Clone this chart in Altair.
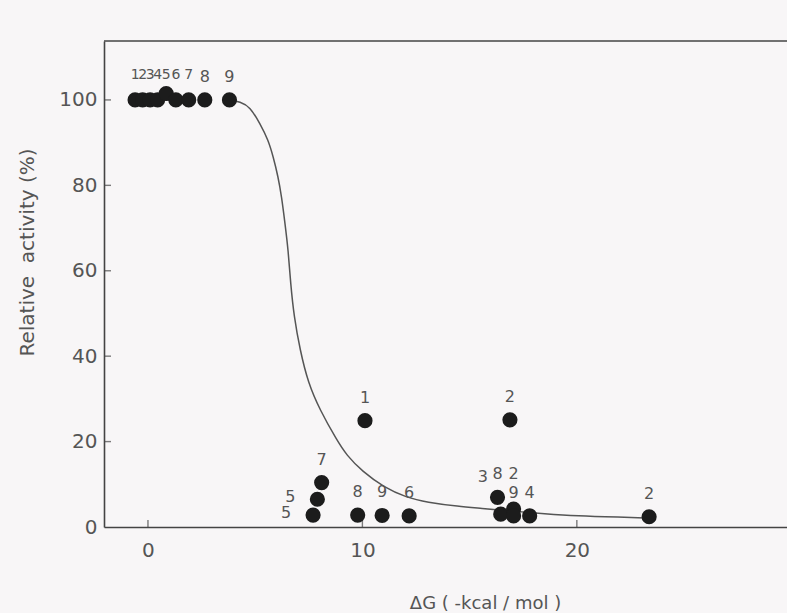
import altair as alt
import pandas as pd

# ---- data ----
pt_label = ["1", "2", "3", "4", "5", "6", "7", "8", "9",
            "1", "2", "7", "5", "5", "8", "9", "6",
            "3", "8", "2", "9", "4", "2"]
pt_dg = [-0.6, -0.25, 0.1, 0.45, 0.85, 1.3, 1.9, 2.65, 3.8,
         10.12, 16.88, 8.1, 7.9, 7.7, 9.78, 10.92, 12.18,
         16.45, 16.3, 17.05, 17.05, 17.8, 23.37]
pt_act = [100, 100, 100, 100, 101.5, 100, 100, 100, 100,
          24.9, 25.1, 10.4, 6.5, 2.8, 2.8, 2.7, 2.6,
          3.0, 6.95, 4.2, 2.6, 2.6, 2.4]
pt_place = ["cluster"] * 4 + ["cluster_raised", "cluster", "cluster", "above", "above"] + \
           ["above", "above", "above", "left", "left", "above", "above", "above",
            "highleft", "above", "high", "above", "above", "above"]

curve_dg = [3.8, 4.3, 4.76, 5.22, 5.61, 5.84, 6.07, 6.23, 6.39, 6.54, 6.65, 6.81, 7.09,
            7.47, 8.02, 8.8, 9.26, 10.0, 11.0, 12.06, 13.0, 14.5, 15.5, 17.0, 18.5,
            20.0, 22.0, 23.4]
curve_act = [100, 99.6, 98.4, 94.5, 90.6, 86.7, 82.0, 77.4, 71.1, 64.9, 57.1, 49.3, 41.5,
             33.7, 27.4, 20.4, 16.8, 13.0, 9.3, 6.9, 5.8, 4.8, 4.4, 3.7, 3.1,
             2.6, 2.3, 2.1]

x_ticks = [0, 10, 20]
y_ticks = [0, 20, 40, 60, 80, 100]
x_domain = [-2.05, 29.8]
y_domain = [0, 113.8]

# ---- styling ----
FONT = "DejaVu Sans"
INK = "#444444"
TXT = "#555555"

points = pd.DataFrame({"dg": pt_dg, "act": pt_act, "label": pt_label, "place": pt_place})
curve = pd.DataFrame({"dg": curve_dg, "act": curve_act})
xt = pd.DataFrame({"dg": [v for v in x_ticks]})
yt = pd.DataFrame({"act": [v for v in y_ticks if v > 0]})

xscale = alt.Scale(domain=x_domain, nice=False, zero=False)
yscale = alt.Scale(domain=y_domain, nice=False, zero=False)

axis_x = alt.Axis(values=x_ticks, ticks=False, grid=False, domainColor=INK, domainWidth=1.6,
                  labelFont=FONT, labelFontSize=20, labelColor=TXT, labelPadding=13,
                  title="ΔG ( -kcal / mol )", titleFont=FONT, titleFontSize=18,
                  titleFontWeight="normal", titleColor=TXT, titleX=381, titleY=76,
                  titleBaseline="middle", titleAlign="center")
axis_y = alt.Axis(values=y_ticks, ticks=False, grid=False, domainColor=INK, domainWidth=1.6,
                  labelFont=FONT, labelFontSize=20, labelColor=TXT, labelPadding=7,
                  title="Relative\u00a0\u00a0activity\u00a0(%)", titleFont=FONT, titleFontSize=20,
                  titleFontWeight="normal", titleColor=TXT, titleX=-77, titleY=211,
                  titleAngle=270, titleBaseline="middle", titleAlign="center")

X = alt.X("dg:Q", scale=xscale, axis=axis_x)
Y = alt.Y("act:Q", scale=yscale, axis=axis_y)

line = alt.Chart(curve).mark_line(color="#555555", strokeWidth=1.5, interpolate="basis").encode(x=X, y=Y)

dots = alt.Chart(points).mark_point(filled=True, size=230, color="#1c1c1c", opacity=1).encode(x=X, y=Y)

# label placement styles: (dx, dy, fontSize)
offsets = {
    "above": (0, -23, 16),
    "cluster": (0, -25, 14),
    "cluster_raised": (0, -18.6, 14),
    "left": (-27, -2, 16),
    "high": (0, -35, 16),
    "highleft": (-18, -37, 16),
}
labels = []
for place, (dx, dy, fs) in offsets.items():
    labels.append(
        alt.Chart(points).transform_filter(alt.datum.place == place)
        .mark_text(font=FONT, fontSize=fs, color=TXT, dx=dx, dy=dy, baseline="middle", align="center")
        .encode(x=X, y=Y, text="label:N")
    )

xticks_layer = alt.Chart(xt).mark_tick(orient="vertical", size=7, thickness=1.4, color=INK, yOffset=-3.5).encode(
    x=X, y=alt.Y(datum=0, scale=yscale))
yticks_layer = alt.Chart(yt).mark_tick(orient="horizontal", size=7, thickness=1.4, color=INK, xOffset=3.5).encode(
    y=Y, x=alt.X(datum=x_domain[0], scale=xscale))

top_border = alt.Chart(pd.DataFrame({"act": [y_domain[1]]})).mark_rule(color=INK, strokeWidth=1.6).encode(y=Y)

chart = alt.layer(top_border, xticks_layer, yticks_layer, line, dots, *labels).properties(
    width=683, height=486,
    autosize=alt.AutoSizeParams(type="none"),
    padding={"left": 104, "top": 41, "right": 0, "bottom": 86},
    background="#f8f6f7",
).configure_view(stroke=None)

chart.save("out.html", embed_options={"renderer": "svg", "actions": False})
